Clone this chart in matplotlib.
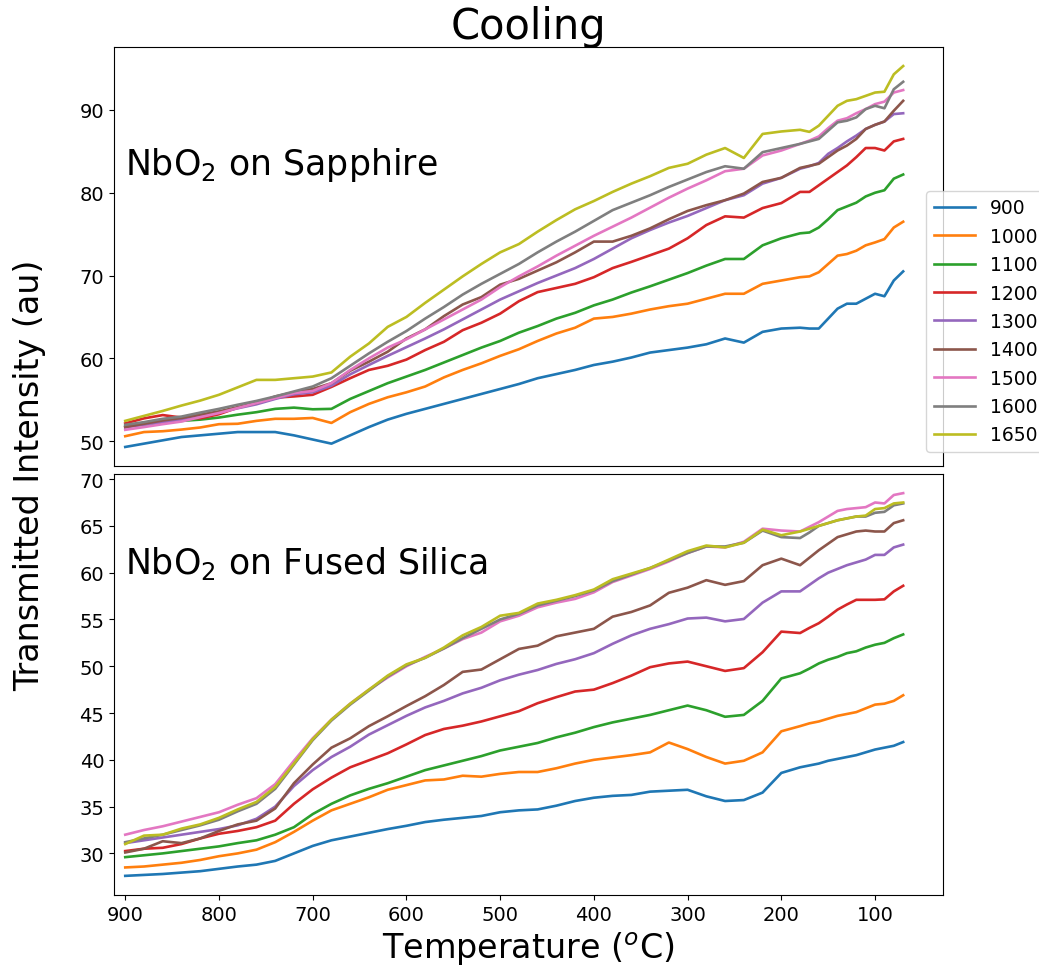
import matplotlib
matplotlib.use("Agg")
import matplotlib.pyplot as plt

temps = [900, 880, 860, 840, 820, 800, 780, 760, 740, 720, 700, 680, 660, 640, 620, 600,
         580, 560, 540, 520, 500, 480, 460, 440, 420, 400, 380, 360, 340, 320, 300, 280,
         260, 240, 220, 200, 180, 170, 160, 150, 140, 130, 120, 110, 100, 90, 80, 70]

labels = ["900", "1000", "1100", "1200", "1300", "1400", "1500", "1600", "1650"]

# NbO2 on Sapphire
sap_900 = [49.3, 49.7, 50.1, 50.5, 50.7, 50.9, 51.1, 51.1, 51.1, 50.7, 50.2, 49.7, 50.7, 51.7, 52.6, 53.3,
           53.9, 54.5, 55.1, 55.7, 56.3, 56.9, 57.6, 58.1, 58.6, 59.2, 59.6, 60.1, 60.7, 61.0, 61.3, 61.7,
           62.4, 61.9, 63.2, 63.6, 63.7, 63.6, 63.6, 64.8, 66.0, 66.6, 66.6, 67.2, 67.8, 67.5, 69.4, 70.5]
sap_1000 = [50.6, 51.1, 51.2, 51.4, 51.65, 52.05, 52.1, 52.45, 52.7, 52.7, 52.8, 52.2, 53.5, 54.5, 55.3, 55.9,
            56.6, 57.7, 58.6, 59.4, 60.3, 61.1, 62.1, 63.0, 63.7, 64.8, 65.0, 65.4, 65.9, 66.3, 66.6, 67.2,
            67.8, 67.8, 69.0, 69.4, 69.8, 69.9, 70.4, 71.4, 72.4, 72.6, 73.0, 73.65, 74.0, 74.4, 75.8, 76.5]
sap_1100 = [51.8, 52.0, 52.25, 52.45, 52.6, 52.85, 53.2, 53.5, 53.9, 54.05, 53.85, 53.9, 55.1, 56.05, 57.0, 57.8,
            58.6, 59.5, 60.4, 61.3, 62.1, 63.1, 63.9, 64.8, 65.5, 66.4, 67.1, 67.95, 68.7, 69.5, 70.3, 71.2,
            72.0, 72.0, 73.65, 74.5, 75.1, 75.2, 75.8, 76.8, 77.9, 78.35, 78.8, 79.55, 80.0, 80.3, 81.7, 82.2]
sap_1200 = [52.15, 52.75, 53.15, 52.85, 52.75, 53.25, 54.05, 54.6, 55.25, 55.4, 55.6, 56.55, 57.6, 58.6, 59.1, 59.85,
            61.0, 62.0, 63.4, 64.3, 65.4, 66.9, 68.0, 68.5, 69.0, 69.8, 70.9, 71.65, 72.45, 73.25, 74.5, 76.1,
            77.15, 77.0, 78.15, 78.75, 80.1, 80.1, 80.9, 81.7, 82.5, 83.3, 84.3, 85.4, 85.4, 85.1, 86.2, 86.5]
sap_1300 = [51.65, 52.0, 52.3, 52.57, 52.97, 53.45, 53.97, 54.45, 55.1, 55.66, 55.9, 56.7, 58.07, 59.2, 60.3, 61.35,
            62.4, 63.5, 64.7, 65.9, 67.1, 68.1, 69.1, 70.0, 70.9, 72.0, 73.25, 74.5, 75.5, 76.4, 77.2, 78.15,
            79.1, 79.7, 81.1, 81.8, 82.9, 83.2, 83.6, 84.7, 85.4, 86.2, 86.9, 87.7, 88.2, 88.6, 89.5, 89.6]
sap_1400 = [51.7, 52.1, 52.5, 52.8, 53.2, 53.6, 54.1, 54.6, 55.4, 55.9, 56.3, 57.0, 58.5, 59.6, 60.8, 62.4,
            63.5, 65.1, 66.5, 67.4, 68.9, 69.6, 70.6, 71.6, 72.8, 74.1, 74.1, 74.8, 75.7, 76.8, 77.8, 78.5,
            79.1, 79.9, 81.3, 81.8, 83.0, 83.25, 83.5, 84.3, 85.1, 85.7, 86.5, 87.7, 88.2, 88.6, 89.9, 91.1]
sap_1500 = [51.37, 51.7, 52.05, 52.37, 52.9, 53.4, 54.0, 54.6, 55.2, 55.8, 56.06, 57.0, 58.6, 60.0, 61.3, 62.3,
            63.5, 64.7, 65.9, 67.1, 68.6, 69.9, 71.1, 72.4, 73.6, 74.8, 75.9, 77.0, 78.2, 79.4, 80.5, 81.5,
            82.6, 82.9, 84.5, 85.1, 85.9, 86.3, 86.8, 87.8, 88.7, 89.0, 89.6, 90.1, 90.7, 91.0, 92.1, 92.4]
sap_1600 = [51.97, 52.3, 52.7, 52.97, 53.45, 53.9, 54.4, 54.86, 55.4, 56.0, 56.6, 57.6, 59.1, 60.6, 62.0, 63.3,
            64.8, 66.2, 67.7, 69.0, 70.2, 71.4, 72.8, 74.1, 75.3, 76.6, 77.9, 78.8, 79.7, 80.7, 81.6, 82.5,
            83.2, 82.9, 84.9, 85.4, 85.9, 86.2, 86.5, 87.5, 88.5, 88.7, 89.1, 90.1, 90.5, 90.2, 92.5, 93.4]
sap_1650 = [52.45, 53.05, 53.65, 54.3, 54.9, 55.6, 56.5, 57.4, 57.4, 57.6, 57.8, 58.3, 60.2, 61.8, 63.8, 65.0,
            66.7, 68.3, 69.9, 71.4, 72.8, 73.8, 75.3, 76.7, 78.0, 79.0, 80.1, 81.1, 82.0, 83.0, 83.5, 84.6,
            85.4, 84.2, 87.1, 87.4, 87.6, 87.35, 88.1, 89.3, 90.5, 91.1, 91.3, 91.7, 92.1, 92.2, 94.3, 95.3]

# NbO2 on Fused Silica
fs_900 = [27.6, 27.7, 27.8, 27.95, 28.1, 28.35, 28.6, 28.8, 29.2, 30.0, 30.8, 31.4, 31.8, 32.2, 32.6, 32.95,
          33.35, 33.6, 33.8, 34.0, 34.4, 34.6, 34.7, 35.1, 35.6, 35.95, 36.15, 36.25, 36.6, 36.7, 36.8, 36.1,
          35.6, 35.7, 36.5, 38.6, 39.2, 39.4, 39.6, 39.9, 40.1, 40.3, 40.5, 40.8, 41.1, 41.3, 41.5, 41.9]
fs_1000 = [28.5, 28.6, 28.8, 29.0, 29.3, 29.7, 30.0, 30.4, 31.2, 32.3, 33.5, 34.6, 35.3, 36.0, 36.8, 37.3,
           37.8, 37.9, 38.3, 38.2, 38.5, 38.7, 38.7, 39.1, 39.6, 40.0, 40.25, 40.5, 40.8, 41.85, 41.15, 40.3,
           39.6, 39.9, 40.8, 43.05, 43.6, 43.9, 44.1, 44.4, 44.7, 44.9, 45.1, 45.5, 45.9, 46.0, 46.3, 46.9]
fs_1100 = [29.6, 29.8, 30.0, 30.25, 30.5, 30.75, 31.1, 31.4, 32.0, 32.8, 34.2, 35.3, 36.2, 36.9, 37.5, 38.2,
           38.9, 39.4, 39.9, 40.4, 41.0, 41.4, 41.8, 42.4, 42.9, 43.5, 44.0, 44.4, 44.8, 45.3, 45.8, 45.3,
           44.6, 44.8, 46.3, 48.7, 49.25, 49.75, 50.3, 50.7, 51.0, 51.4, 51.6, 52.0, 52.3, 52.5, 53.0, 53.4]
fs_1200 = [30.25, 30.5, 30.6, 31.0, 31.6, 32.1, 32.4, 32.8, 33.5, 35.3, 36.85, 38.1, 39.2, 39.95, 40.7, 41.65,
           42.65, 43.3, 43.65, 44.1, 44.65, 45.2, 46.05, 46.7, 47.3, 47.5, 48.2, 49.0, 49.9, 50.3, 50.5, 50.0,
           49.5, 49.8, 51.5, 53.7, 53.55, 54.1, 54.6, 55.3, 56.05, 56.6, 57.1, 57.1, 57.1, 57.15, 58.0, 58.6]
fs_1300 = [31.1, 31.4, 31.7, 32.0, 32.3, 32.6, 33.0, 33.7, 35.0, 37.2, 38.9, 40.3, 41.4, 42.7, 43.7, 44.7,
           45.6, 46.3, 47.1, 47.7, 48.5, 49.1, 49.6, 50.25, 50.75, 51.4, 52.4, 53.3, 54.0, 54.5, 55.1, 55.2,
           54.8, 55.05, 56.8, 58.0, 58.0, 58.7, 59.4, 60.0, 60.4, 60.8, 61.1, 61.4, 61.9, 61.9, 62.7, 63.0]
fs_1400 = [30.1, 30.5, 31.3, 31.1, 31.6, 32.4, 33.1, 33.5, 34.8, 37.5, 39.5, 41.3, 42.3, 43.6, 44.65, 45.75,
           46.8, 48.0, 49.4, 49.65, 50.75, 51.85, 52.2, 53.2, 53.6, 54.0, 55.3, 55.8, 56.5, 57.85, 58.4, 59.2,
           58.7, 59.1, 60.8, 61.5, 60.8, 61.6, 62.4, 63.1, 63.8, 64.1, 64.4, 64.5, 64.4, 64.4, 65.3, 65.6]
fs_1500 = [32.0, 32.5, 32.9, 33.4, 33.9, 34.4, 35.2, 35.9, 37.4, 39.9, 42.3, 44.3, 46.0, 47.5, 48.8, 50.0,
           51.0, 51.9, 52.9, 53.6, 54.8, 55.4, 56.3, 56.8, 57.2, 57.9, 59.0, 59.7, 60.4, 61.2, 62.1, 62.8,
           62.7, 63.3, 64.7, 64.5, 64.4, 64.9, 65.4, 66.0, 66.6, 66.8, 66.9, 67.0, 67.5, 67.4, 68.3, 68.5]
fs_1600 = [31.2, 31.6, 32.0, 32.5, 33.0, 33.6, 34.5, 35.3, 36.9, 39.5, 42.1, 44.2, 45.9, 47.4, 48.9, 50.1,
           50.9, 51.9, 53.0, 54.0, 55.0, 55.6, 56.5, 57.0, 57.5, 58.1, 59.1, 59.8, 60.5, 61.3, 62.1, 62.8,
           62.8, 63.2, 64.5, 63.8, 63.7, 64.3, 65.0, 65.3, 65.6, 65.8, 66.0, 66.0, 66.4, 66.5, 67.2, 67.4]
fs_1650 = [31.0, 31.9, 32.0, 32.65, 33.1, 33.8, 34.7, 35.5, 37.1, 39.6, 42.2, 44.3, 46.0, 47.5, 49.0, 50.2,
           50.9, 52.0, 53.3, 54.2, 55.4, 55.7, 56.7, 57.1, 57.6, 58.2, 59.3, 59.9, 60.5, 61.4, 62.3, 62.9,
           62.7, 63.2, 64.6, 64.0, 64.4, 64.7, 65.0, 65.3, 65.6, 65.8, 66.0, 66.1, 66.8, 66.9, 67.4, 67.5]

sapphire = [sap_900, sap_1000, sap_1100, sap_1200, sap_1300, sap_1400, sap_1500, sap_1600, sap_1650]
silica = [fs_900, fs_1000, fs_1100, fs_1200, fs_1300, fs_1400, fs_1500, fs_1600, fs_1650]

W, H = 1039, 970
fig = plt.figure(figsize=(W / 100, H / 100), dpi=100)
ax1 = fig.add_axes([114 / W, 1 - 467 / H, 829 / W, 419 / H])
ax2 = fig.add_axes([114 / W, 1 - 896 / H, 829 / W, 421 / H], sharex=ax1)

lines = []
for lab, ys in zip(labels, sapphire):
    ln, = ax1.plot(temps, ys, lw=1.9, label=lab)
    lines.append(ln)
for lab, ys in zip(labels, silica):
    ax2.plot(temps, ys, lw=1.9, label=lab)

ax1.set_xlim(912, 27.5)
ax1.set_xticks([900, 800, 700, 600, 500, 400, 300, 200, 100])
ax1.tick_params(axis='x', bottom=False, labelbottom=False)
ax1.set_yticks([50, 60, 70, 80, 90])
ax2.set_yticks([30, 35, 40, 45, 50, 55, 60, 65, 70])
for ax in (ax1, ax2):
    ax.tick_params(labelsize=14)

ax1.text(0.013, 0.72, r'NbO$_2$ on Sapphire', transform=ax1.transAxes,
         fontsize=25, va='center', ha='left')
ax2.text(0.013, 0.79, r'NbO$_2$ on Fused Silica', transform=ax2.transAxes,
         fontsize=25, va='center', ha='left')

ax1.set_title('Cooling', fontsize=30, pad=6)
ax2.set_xlabel(r'Temperature ($^o$C)', fontsize=24, labelpad=4)
fig.text(30 / W, 1 - 475 / H, 'Transmitted Intensity (au)', rotation=90,
         fontsize=24, ha='center', va='center')

fig.legend(handles=lines, labels=labels, loc='upper left',
           bbox_to_anchor=(926 / W, 1 - 192 / H), borderaxespad=0,
           fontsize=13.5, handlelength=2.2, frameon=True)

fig.savefig('out.png', dpi=100)
